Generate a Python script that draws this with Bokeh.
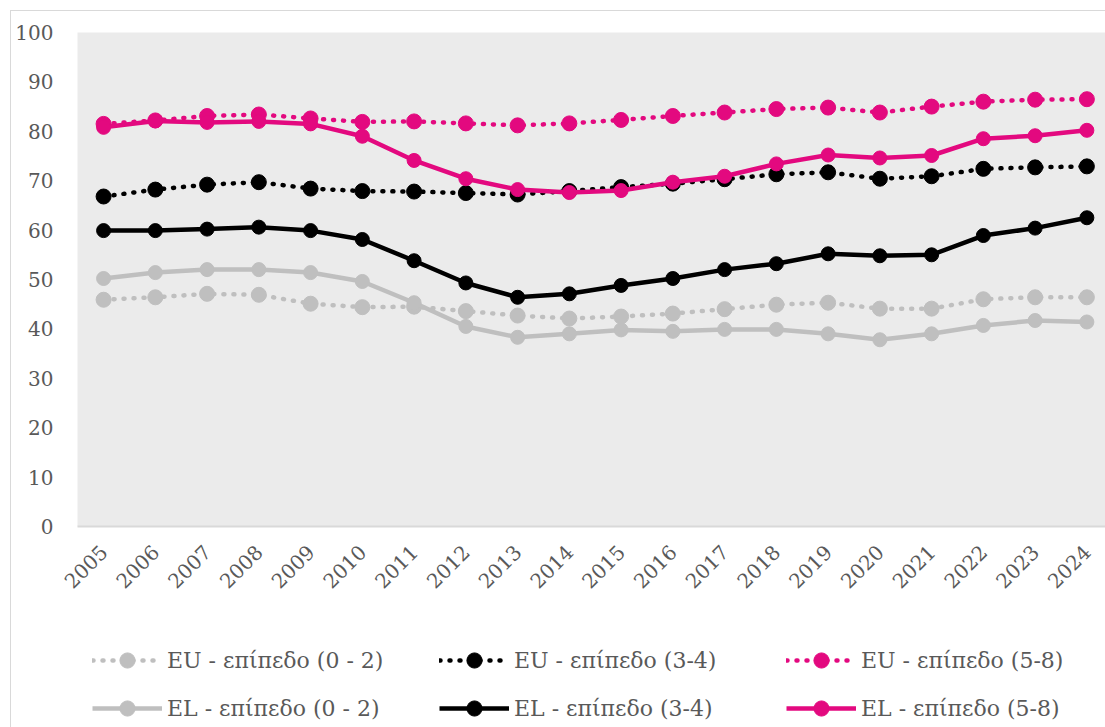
from bokeh.plotting import figure
from bokeh.models import Legend, LegendItem, FixedTicker, Range1d
from bokeh.layouts import column
from bokeh.embed import file_html
from bokeh.resources import INLINE

years = list(range(2005, 2025))
eu_02 = [45.9, 46.4, 47.1, 46.9, 45.1, 44.4, 44.5, 43.6, 42.7, 42.1, 42.5, 43.1, 44.0, 44.9, 45.3, 44.1, 44.1, 46.0, 46.4, 46.4]
eu_34 = [66.8, 68.2, 69.2, 69.7, 68.4, 67.9, 67.8, 67.5, 67.2, 67.9, 68.7, 69.4, 70.3, 71.3, 71.7, 70.4, 70.9, 72.4, 72.7, 72.9]
eu_58 = [81.5, 82.2, 83.1, 83.4, 82.6, 81.9, 82.0, 81.6, 81.2, 81.6, 82.3, 83.1, 83.8, 84.5, 84.8, 83.8, 85.0, 86.0, 86.4, 86.5]
el_02 = [50.2, 51.4, 52.0, 52.0, 51.4, 49.6, 45.3, 40.5, 38.3, 39.0, 39.8, 39.5, 39.9, 39.9, 39.0, 37.8, 39.0, 40.7, 41.7, 41.4]
el_34 = [59.9, 59.9, 60.2, 60.6, 59.9, 58.1, 53.8, 49.3, 46.4, 47.1, 48.8, 50.2, 52.0, 53.2, 55.2, 54.8, 55.0, 58.9, 60.4, 62.5]
el_58 = [80.8, 82.1, 81.8, 82.0, 81.5, 79.0, 74.1, 70.4, 68.2, 67.6, 68.0, 69.7, 70.9, 73.4, 75.2, 74.6, 75.1, 78.5, 79.1, 80.2]
y_ticks = [0, 10, 20, 30, 40, 50, 60, 70, 80, 90, 100]

series_names = ["EU - επίπεδο (0 - 2)", "EU - επίπεδο (3-4)", "EU - επίπεδο (5-8)",
                "EL - επίπεδο (0 - 2)", "EL - επίπεδο (3-4)", "EL - επίπεδο (5-8)"]
series_values = [eu_02, eu_34, eu_58, el_02, el_34, el_58]

GRAY = "#BFBFBF"
PINK = "#E3097F"
BLACK = "#000000"
colors = [GRAY, BLACK, PINK, GRAY, BLACK, PINK]
dotted = [True, True, True, False, False, False]

TXT = "#595959"
FONT = "DejaVu Serif"
W = 1094

p = figure(width=W, height=609, output_backend="svg", toolbar_location=None,
           x_range=Range1d(2004.496, 2024.36), y_range=Range1d(0, 100),
           min_border_left=66, min_border_right=0, min_border_top=21, min_border_bottom=94)
p.background_fill_color = "#EBEBEB"
p.border_fill_color = "white"
p.outline_line_color = None
p.xgrid.visible = False
p.ygrid.visible = False

p.xaxis.ticker = FixedTicker(ticks=years)
p.xaxis.major_label_orientation = 0.785398
p.xaxis.axis_line_color = "#D9D9D9"
p.xaxis.axis_line_width = 2
p.xaxis.major_tick_line_color = None
p.xaxis.minor_tick_line_color = None
p.xaxis.major_label_text_font = FONT
p.xaxis.major_label_text_font_size = "20px"
p.xaxis.major_label_text_color = TXT
p.xaxis.major_label_standoff = 16

p.yaxis.ticker = FixedTicker(ticks=y_ticks)
p.yaxis.axis_line_color = None
p.yaxis.major_tick_line_color = None
p.yaxis.minor_tick_line_color = None
p.yaxis.major_label_text_font = FONT
p.yaxis.major_label_text_font_size = "20px"
p.yaxis.major_label_text_color = TXT
p.yaxis.major_label_standoff = 18

# legend strip below the chart (its series lie outside its 0..1 ranges, so only the legend shows)
leg = figure(width=W, height=107, output_backend="svg", toolbar_location=None,
             x_range=Range1d(0, 1), y_range=Range1d(0, 1),
             x_axis_location=None, y_axis_location=None,
             min_border_left=0, min_border_right=0, min_border_top=0, min_border_bottom=0)
leg.grid.visible = False
leg.outline_line_color = None
leg.background_fill_color = "white"
leg.border_fill_color = "white"

items = []
for name, vals, col, dot in zip(series_names, series_values, colors, dotted):
    if dot:
        kw = dict(line_color=col, line_width=4.5, line_dash="1 9", line_cap="round")
        msize = 15
    else:
        kw = dict(line_color=col, line_width=4.5, line_join="round")
        msize = 14
    p.line(years, vals, **kw)
    p.scatter(years, vals, size=msize, fill_color=col, line_color=col)
    l1 = leg.line(years, vals, **kw)
    l2 = leg.scatter(years, vals, size=msize, fill_color=col, line_color=col)
    items.append(LegendItem(label=name, renderers=[l1, l2]))

for row, vy in ((items[:3], 48), (items[3:], 0)):
    legend = Legend(items=row, orientation="horizontal", location=(15, vy),
                    glyph_width=70, glyph_height=38, label_height=38, label_width=250,
                    label_standoff=5, spacing=22, padding=0, margin=0,
                    label_text_font=FONT, label_text_font_size="22px", label_text_color=TXT,
                    border_line_color=None, background_fill_alpha=0)
    leg.add_layout(legend)

layout = column(p, leg, spacing=0,
                styles={"margin-left": "10px", "margin-top": "10px",
                        "border-left": "1px solid #D9D9D9", "border-top": "1px solid #D9D9D9"})

open("out.html", "w").write(file_html(layout, INLINE))
